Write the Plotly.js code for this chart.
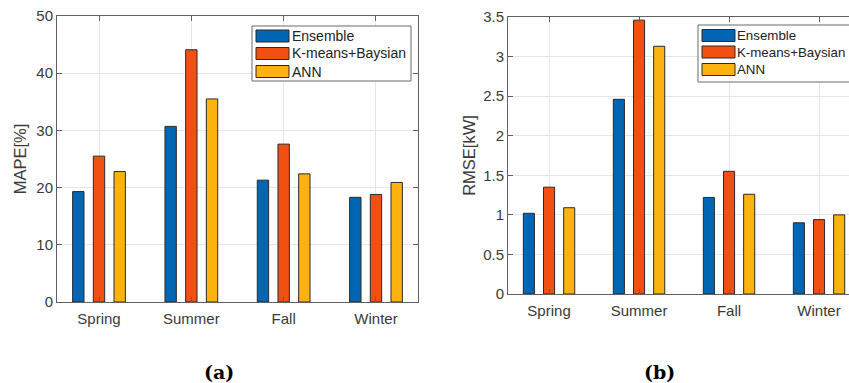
<!DOCTYPE html>
<html>
<head>
<meta charset="utf-8">
<script src="https://cdn.plot.ly/plotly-3.0.1.min.js"></script>
<style>html,body{margin:0;padding:0;background:#fff;}#chart{width:849px;height:383px;}</style>
</head>
<body>
<div id="chart"></div>
<script>
// ---- data ----
const categories = ['Spring', 'Summer', 'Fall', 'Winter'];
const seriesNames = ['Ensemble', 'K-means+Baysian', 'ANN'];
const mapeEnsemble = [19.3, 30.7, 21.3, 18.3];
const mapeKmeans   = [25.5, 44.1, 27.6, 18.8];
const mapeANN      = [22.8, 35.5, 22.4, 20.9];
const rmseEnsemble = [1.02, 2.46, 1.22, 0.90];
const rmseKmeans   = [1.35, 3.46, 1.55, 0.94];
const rmseANN      = [1.09, 3.13, 1.26, 1.00];

// ---- styles ----
const W = 849, H = 383;
const colors = ['#0066b4', '#f24f12', '#fdb30f'];
const edge = {color: '#2a2a2a', width: 1};
const textColor = '#3a3a3a';
const axisColor = '#606060';
const gridColor = '#e6e6e6';
const fontFam = 'Liberation Sans, Arial, Helvetica, sans-serif';
const px = x => x / W;
const py = y => 1 - y / H;

const mapeSeries = [mapeEnsemble, mapeKmeans, mapeANN];
const rmseSeries = [rmseEnsemble, rmseKmeans, rmseANN];

const traces = [];
mapeSeries.forEach((vals, i) => traces.push({
  type: 'bar', x: categories, y: vals, name: seriesNames[i],
  xaxis: 'x', yaxis: 'y', showlegend: false,
  marker: {color: colors[i], line: edge}
}));
rmseSeries.forEach((vals, i) => traces.push({
  type: 'bar', x: categories, y: vals, name: seriesNames[i],
  xaxis: 'x2', yaxis: 'y2', showlegend: false,
  marker: {color: colors[i], line: edge}
}));

function axisBase() {
  return {
    showline: true, linecolor: axisColor, linewidth: 1,
    ticks: 'inside', ticklen: 5, tickcolor: axisColor, tickwidth: 1,
    showgrid: true, gridcolor: gridColor, gridwidth: 1,
    zeroline: false, fixedrange: true,
    tickfont: {family: fontFam, size: 15, color: textColor}
  };
}

// ---- manual legends (wide MATLAB-style swatches) ----
const shapes = [];
const annotations = [];
function addLegend(box, swX0, swX1, rows, textX, fsize) {
  shapes.push({type: 'rect', xref: 'paper', yref: 'paper', layer: 'above',
    x0: px(box[0]), x1: px(box[1]), y0: py(box[2]), y1: py(box[3]),
    fillcolor: '#ffffff', line: {color: '#6a6a6a', width: 1}});
  rows.forEach((r, i) => {
    shapes.push({type: 'rect', xref: 'paper', yref: 'paper', layer: 'above',
      x0: px(swX0), x1: px(swX1), y0: py(r[0]), y1: py(r[1]),
      fillcolor: colors[i], line: {color: '#2a2a2a', width: 1}});
    annotations.push({xref: 'paper', yref: 'paper', x: px(textX), y: py((r[0] + r[1]) / 2),
      xanchor: 'left', yanchor: 'middle', showarrow: false, text: seriesNames[i], borderpad: 0,
      font: {family: fontFam, size: fsize, color: '#222'}});
  });
}
addLegend([252, 411, 26, 81], 256, 289, [[30, 42], [47.5, 59.5], [65.5, 77.5]], 291, 14);
addLegend([698, 870, 25, 82], 702, 735, [[29.5, 41.5], [46, 58], [63.5, 75.5]], 736, 13.3);

annotations.push({xref: 'paper', yref: 'paper', x: px(219), y: py(372), xanchor: 'center', yanchor: 'middle',
  showarrow: false, text: '<b>(a)</b>', font: {family: 'DejaVu Serif, serif', size: 19, color: '#000'}});
annotations.push({xref: 'paper', yref: 'paper', x: px(659), y: py(372), xanchor: 'center', yanchor: 'middle',
  showarrow: false, text: '<b>(b)</b>', font: {family: 'DejaVu Serif, serif', size: 19, color: '#000'}});

const layout = {
  width: W, height: H,
  margin: {l: 0, r: 0, t: 0, b: 0},
  paper_bgcolor: '#ffffff', plot_bgcolor: '#ffffff',
  barmode: 'group', bargap: 0.328, bargroupgap: 0.45,
  showlegend: false,
  font: {family: fontFam, color: textColor},
  xaxis: Object.assign(axisBase(), {
    domain: [px(57), px(418)], anchor: 'y', type: 'category',
    range: [-0.455, 3.455], mirror: 'ticks', ticklabelstandoff: 3
  }),
  yaxis: Object.assign(axisBase(), {
    domain: [py(302), py(16)], anchor: 'x',
    range: [0, 50], dtick: 10, mirror: 'ticks',
    title: {text: 'MAPE[%]', standoff: 5, font: {family: fontFam, size: 16.5, color: textColor}}
  }),
  xaxis2: Object.assign(axisBase(), {
    domain: [px(508), 1], anchor: 'y2', type: 'category',
    range: [-0.456, 3.333], mirror: 'ticks', ticklabelstandoff: 3
  }),
  yaxis2: Object.assign(axisBase(), {
    domain: [py(294), py(17)], anchor: 'x2',
    range: [0, 3.5], dtick: 0.5, mirror: false,
    title: {text: 'RMSE[kW]', standoff: 3, font: {family: fontFam, size: 16.5, color: textColor}}
  }),
  shapes: shapes,
  annotations: annotations
};

Plotly.newPlot('chart', traces, layout, {staticPlot: true, displayModeBar: false});
</script>
</body>
</html>
